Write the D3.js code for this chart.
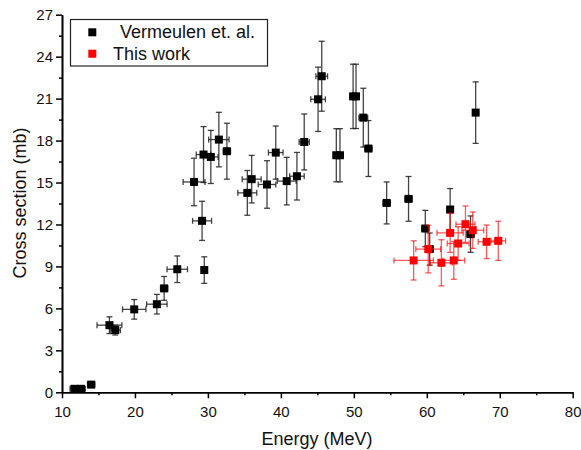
<!DOCTYPE html>
<html><head><meta charset="utf-8">
<script src="https://cdn.jsdelivr.net/npm/d3@7"></script>
<style>body{margin:0;background:#fff}svg{display:block;font-family:"Liberation Sans",Arial,sans-serif}</style>
</head><body><svg id="c" width="581" height="450"></svg>
<script>
// Vermeulen et. al. (black)
const vermE    = [11.7,12.6,14.0,16.5,17.3,19.9,23.0,24.0,25.8,28.1,29.2,29.5,29.4,30.4,31.5,32.6,35.4,36.0,38.1,39.3,40.8,42.2,43.2,45.1,45.6,47.6,48.1,49.9,50.3,51.3,52.0,54.5,57.5,59.8,60.4,63.2,66.0,66.7];
const vermXS   = [0.25,0.25,0.55,4.8,4.45,5.93,6.3,7.43,8.8,15.04,12.26,8.74,17.0,16.83,18.07,17.24,14.26,15.24,14.86,17.14,15.1,15.45,17.9,20.95,22.6,16.95,16.95,21.16,21.16,19.64,17.43,13.54,13.83,11.71,10.24,13.07,11.31,20.0];
const vermEErr = [0.6,0.6,0.5,1.7,0.7,1.6,1.4,0.5,1.4,1.5,1.3,0.3,1.0,1.0,1.4,0.5,1.3,1.3,1.2,1.0,1.3,1.0,0.7,1.0,0.8,0.4,0.4,0.4,0.4,0.6,0.5,0.5,0.5,0.5,0.5,0.4,0.5,0.3];
const vermXSErr= [0.1,0.1,0.1,0.6,0.35,0.7,0.7,0.85,0.95,1.7,1.4,0.95,2.0,1.9,1.95,2.0,1.6,1.7,1.7,1.9,1.7,1.7,2.0,2.3,2.5,1.9,1.9,2.3,2.3,2.1,2.0,1.5,1.6,1.3,1.15,1.5,1.3,2.2];
// This work (red)
const thisE    = [58.2,60.2,62.0,63.2,63.7,64.3,65.3,66.3,68.2,69.8];
const thisXS   = [9.43,10.24,9.26,11.4,9.43,10.64,12.02,11.59,10.76,10.83];
const thisEErr = [2.7,1.7,1.5,1.8,1.5,1.5,1.3,1.5,1.15,1.0];
const thisXSErr= [1.4,1.7,1.65,1.4,1.35,1.2,1.3,1.3,1.2,1.4];
const xTicks = [10,20,30,40,50,60,70,80];
const yTicks = [0,3,6,9,12,15,18,21,24,27];
const seriesNames = ["Vermeulen et. al.","This work"];

const svg = d3.select("#c");
const x = d3.scaleLinear().domain([10,80]).range([62,572.7]);
const y = d3.scaleLinear().domain([0,27]).range([392.3,14.7]);

// axes
const xAxis = svg.append("g").attr("transform","translate(0,392.3)")
  .call(d3.axisBottom(x).tickValues(xTicks).tickSize(6).tickSizeOuter(0));
svg.append("g").attr("transform","translate(0,392.3)")
  .call(d3.axisBottom(x).tickValues(d3.range(15,80,10)).tickSize(3).tickFormat("").tickSizeOuter(0));
const yAxis = svg.append("g").attr("transform","translate(62,0)")
  .call(d3.axisLeft(y).tickValues(yTicks).tickSize(6).tickSizeOuter(0));
svg.append("g").attr("transform","translate(62,0)")
  .call(d3.axisLeft(y).tickValues(d3.range(1.5,27,3)).tickSize(3).tickFormat("").tickSizeOuter(0));
svg.selectAll(".domain").attr("stroke","#000").attr("stroke-width",1.6);
svg.selectAll(".tick line").attr("stroke","#000").attr("stroke-width",1.5);
xAxis.selectAll("text").attr("font-size",15).attr("fill","#111").attr("dy","1.05em");
yAxis.selectAll("text").attr("font-size",15).attr("fill","#111").attr("x",-9);

svg.append("text").attr("x",317).attr("y",445).attr("text-anchor","middle")
  .attr("font-size",18).attr("fill","#111").text("Energy (MeV)");
svg.append("text").attr("transform","translate(25.5,203) rotate(-90)").attr("text-anchor","middle")
  .attr("font-size",18).attr("fill","#111").text("Cross section (mb)");

function drawSeries(E, XS, EE, XE, color, barColor, opac){
  const g = svg.append("g");
  const data = E.map((e,i)=>({e, s:XS[i], ee:EE[i], se:XE[i]}));
  const cap = 3;
  const eb = g.append("g").attr("stroke",barColor).attr("stroke-width",1.3).attr("stroke-opacity",opac).attr("fill","none");
  data.forEach(d=>{
    const cx=x(d.e), cy=y(d.s), y0=y(d.s-d.se), y1=y(d.s+d.se), x0=x(d.e-d.ee), x1=x(d.e+d.ee);
    eb.append("line").attr("x1",cx).attr("x2",cx).attr("y1",y0).attr("y2",y1);
    eb.append("line").attr("x1",cx-cap).attr("x2",cx+cap).attr("y1",y0).attr("y2",y0);
    eb.append("line").attr("x1",cx-cap).attr("x2",cx+cap).attr("y1",y1).attr("y2",y1);
    eb.append("line").attr("x1",x0).attr("x2",x1).attr("y1",cy).attr("y2",cy);
    eb.append("line").attr("x1",x0).attr("x2",x0).attr("y1",cy-cap).attr("y2",cy+cap);
    eb.append("line").attr("x1",x1).attr("x2",x1).attr("y1",cy-cap).attr("y2",cy+cap);
  });
  const sz=8;
  g.selectAll("rect").data(data).join("rect")
    .attr("x",d=>x(d.e)-sz/2).attr("y",d=>y(d.s)-sz/2).attr("width",sz).attr("height",sz)
    .attr("fill",color);
}
drawSeries(vermE, vermXS, vermEErr, vermXSErr, "#000", "#222", 0.85);
drawSeries(thisE, thisXS, thisEErr, thisXSErr, "#ff0000", "#ff0000", 0.65);

// legend
const lg = svg.append("g");
lg.append("rect").attr("x",70.5).attr("y",19.5).attr("width",197).attr("height",46.5)
  .attr("fill","#fff").attr("stroke","#222").attr("stroke-width",1.2);
const legColors = ["#000","#ff0000"];
const legY = [32.3,53.7];
const legX = [120,113];
seriesNames.forEach((n,i)=>{
  lg.append("rect").attr("x",92.3-4).attr("y",legY[i]-4).attr("width",8).attr("height",8).attr("fill",legColors[i]);
  lg.append("text").attr("x",legX[i]).attr("y",legY[i]+6).attr("font-size",18).attr("fill","#111").text(n);
});
</script></body></html>
